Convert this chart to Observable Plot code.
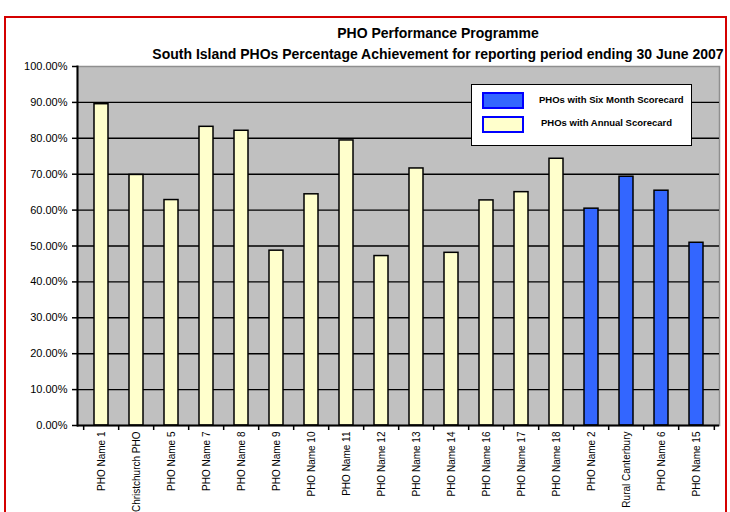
<!DOCTYPE html>
<html>
<head>
<meta charset="utf-8">
<script src="https://cdn.jsdelivr.net/npm/d3@7"></script>
<script src="https://cdn.jsdelivr.net/npm/@observablehq/plot@0.6"></script>
<style>
  html, body { margin: 0; padding: 0; background: #fff; }
  #wrap { position: relative; width: 730px; height: 512px; overflow: hidden; font-family: "Liberation Sans", Arial, sans-serif; }
  #border { position: absolute; left: 4px; top: 16px; width: 723px; height: 520px; border: 2px solid #d40000; box-sizing: border-box; }
  .title { position: absolute; left: 138px; width: 600px; text-align: center; font-weight: bold; color: #000; white-space: nowrap; }
  #legend { position: absolute; left: 471px; top: 84px; width: 221px; height: 62px; background: #fff; border: 1.5px solid #000; box-sizing: border-box; }
  .sw { position: absolute; left: 10px; width: 42px; height: 17px; border: 2px solid #0000ff; box-sizing: border-box; }
  .lt { position: absolute; font-size: 9.5px; font-weight: bold; color: #000; white-space: nowrap; }
  #chart { position: absolute; left: 0; top: 0; }
</style>
</head>
<body>
<div id="wrap">
  <div id="chart"></div>
  <div id="border"></div>
  <div class="title" style="top:25px;font-size:14px;">PHO Performance Programme</div>
  <div class="title" style="top:46px;font-size:14px;">South Island PHOs Percentage Achievement for reporting period ending 30 June 2007</div>
  <div id="legend"></div>
</div>
<script>
const categories = ["PHO Name 1","Christchurch PHO","PHO Name 5","PHO Name 7","PHO Name 8","PHO Name 9","PHO Name 10","PHO Name 11","PHO Name 12","PHO Name 13","PHO Name 14","PHO Name 16","PHO Name 17","PHO Name 18","PHO Name 2","Rural Canterbury","PHO Name 6","PHO Name 15"];
const values = [0.895,0.698,0.628,0.832,0.821,0.487,0.644,0.794,0.472,0.716,0.481,0.627,0.650,0.743,0.604,0.693,0.654,0.509];
const groups = ["Annual","Annual","Annual","Annual","Annual","Annual","Annual","Annual","Annual","Annual","Annual","Annual","Annual","Annual","Six Month","Six Month","Six Month","Six Month"];
const seriesNames = ["PHOs with Six Month Scorecard","PHOs with Annual Scorecard"];
const seriesKeys = ["Six Month","Annual"];
const seriesColors = ["#3366ff","#ffffcc"];
const yTicks = [0,0.1,0.2,0.3,0.4,0.5,0.6,0.7,0.8,0.9,1];

const data = categories.map((name, i) => ({name, value: values[i], group: groups[i]}));

const W = 730, H = 512, mL = 77, mR = 11, mT = 66, mB = 87;
const step = (W - mL - mR) / categories.length;

const chart = Plot.plot({
  width: W, height: H,
  marginLeft: mL, marginRight: mR, marginTop: mT, marginBottom: mB,
  style: {fontFamily: "'Liberation Sans', Arial, sans-serif", background: "transparent", color: "#000"},
  x: {domain: categories, paddingInner: 0.6, paddingOuter: 0.3, label: null},
  y: {domain: [0, 1], label: null},
  color: {domain: seriesKeys, range: seriesColors},
  marks: [
    Plot.frame({fill: "#c0c0c0", stroke: "#8f8f8f", strokeWidth: 1.5}),
    Plot.ruleY(yTicks.filter(t => t > 0 && t < 1), {stroke: "#000", strokeWidth: 1.4}),
    Plot.barY(data, {x: "name", y: "value", fill: "group", stroke: "#000", strokeWidth: 1.5}),
    Plot.ruleY([0], {stroke: "#000", strokeWidth: 2}),
    Plot.frame({anchor: "left", stroke: "#000", strokeWidth: 2}),
    Plot.axisY(yTicks, {tickSize: 5, tickPadding: 5, tickFormat: d3.format(".2%"), fontSize: 11, strokeWidth: 1.5}),
    Plot.axisX({tickSize: 0, tickRotate: -90, tickPadding: 6, fontSize: 10}),
    Plot.axisX({tickSize: 5, tickFormat: () => "", dx: -step / 2, strokeWidth: 1.5}),
    Plot.axisX([categories[categories.length - 1]], {tickSize: 5, tickFormat: () => "", dx: step / 2, strokeWidth: 1.5})
  ]
});
document.getElementById("chart").appendChild(chart);

const legend = document.getElementById("legend");
seriesNames.forEach((name, i) => {
  const sw = document.createElement("div");
  sw.className = "sw";
  sw.style.top = (7 + i * 24) + "px";
  sw.style.background = seriesColors[i];
  legend.appendChild(sw);
  const t = document.createElement("div");
  t.className = "lt";
  t.style.left = (67 + i * 2) + "px";
  t.style.top = (9 + i * 23) + "px";
  t.textContent = name;
  legend.appendChild(t);
});
</script>
</body>
</html>
